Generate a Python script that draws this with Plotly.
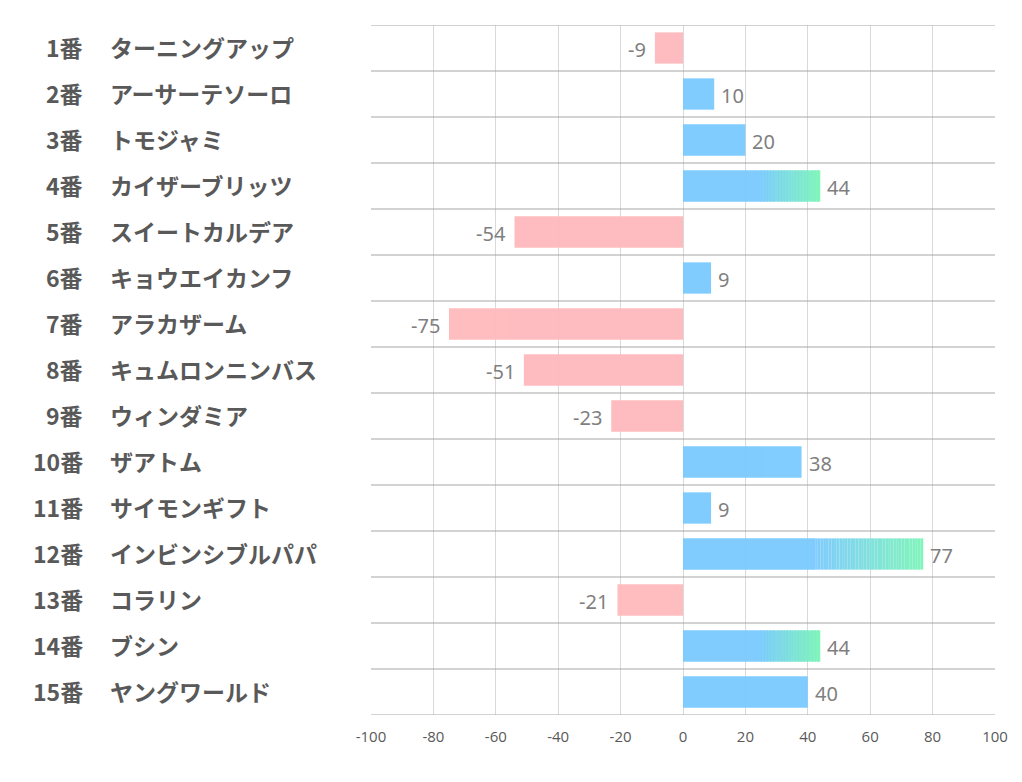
import plotly.graph_objects as go

numbers = ["1番", "2番", "3番", "4番", "5番", "6番", "7番", "8番", "9番", "10番",
           "11番", "12番", "13番", "14番", "15番"]
names = ["ターニングアップ", "アーサーテソーロ", "トモジャミ", "カイザーブリッツ", "スイートカルデア",
         "キョウエイカンフ", "アラカザーム", "キュムロンニンバス", "ウィンダミア", "ザアトム",
         "サイモンギフト", "インビンシブルパパ", "コラリン", "ブシン", "ヤングワールド"]
values = [-9, 10, 20, 44, -54, 9, -75, -51, -23, 38, 9, 77, -21, 44, 40]
highlight = [4, 12, 14]  # horse numbers drawn with gradient
x_ticks = [-100, -80, -60, -40, -20, 0, 20, 40, 60, 80, 100]
x_tick_text = ["-100", "-80", "-60", "-40", "-20", "0", "20", "40", "60", "80", "100"]

BLUE = (122, 202, 255)
GREEN = (125, 245, 185)
PINK = "rgb(255,185,189)"

n = len(values)
ypos = list(range(n))
fig = go.Figure()

def rgb(c):
    return "rgb(%d,%d,%d)" % c

neg_x = [v if v < 0 else None for v in values]
pos_plain = []
for i, v in enumerate(values):
    if v > 0:
        pos_plain.append(v * 0.55 if (i + 1) in highlight else v)
    else:
        pos_plain.append(None)

BW = 0.68
fig.add_trace(go.Bar(x=neg_x, y=ypos, orientation="h", marker=dict(color=PINK, line=dict(width=0)),
                     width=BW, opacity=0.95, hoverinfo="skip"))
fig.add_trace(go.Bar(x=pos_plain, y=ypos, orientation="h", marker=dict(color=rgb(BLUE), line=dict(width=0)),
                     width=BW, opacity=0.95, hoverinfo="skip"))

NSEG = 40
for k in range(NSEG):
    t0 = 0.55 + 0.45 * k / NSEG
    t1 = 0.55 + 0.45 * (k + 1) / NSEG
    f = (k + 0.5) / NSEG
    col = tuple(BLUE[j] + (GREEN[j] - BLUE[j]) * f for j in range(3))
    xs, bs, ys = [], [], []
    for i, v in enumerate(values):
        if (i + 1) in highlight:
            xs.append(v * (t1 - t0))
            bs.append(v * t0)
            ys.append(i)
    fig.add_trace(go.Bar(x=xs, y=ys, base=bs, orientation="h",
                         marker=dict(color=rgb(col), line=dict(width=0)),
                         width=BW, opacity=0.95, hoverinfo="skip"))

# value labels
for i, v in enumerate(values):
    fig.add_annotation(x=v, y=i, xref="x", yref="y", text=str(v), showarrow=False,
                       xanchor="left" if v > 0 else "right", yanchor="middle",
                       xshift=5 if v > 0 else -7, yshift=-1,
                       font=dict(family="Noto Sans, Open Sans, sans-serif", size=20, color="#7f7f7f"))

# row labels
for i in range(n):
    fig.add_annotation(x=-0.4583, y=i, xref="paper", yref="y", text="<b>%s</b>" % numbers[i],
                       xanchor="right", yanchor="middle", showarrow=False, yshift=1,
                       font=dict(family="Noto Sans CJK JP", size=23, color="#595959"))
    fig.add_annotation(x=-0.4215, y=i, xref="paper", yref="y", text="<b>%s</b>" % names[i],
                       xanchor="left", yanchor="middle", showarrow=False, yshift=1,
                       font=dict(family="Noto Sans CJK JP", size=23, color="#595959"))

# row separators (horizontal)
for b in [i - 0.5 for i in range(n + 1)]:
    fig.add_shape(type="line", xref="paper", yref="y", x0=0, x1=1, y0=b, y1=b,
                  line=dict(color="#a6a6a6", width=1), layer="above")

fig.update_layout(
    width=1006, height=766,
    margin=dict(l=363, r=19, t=17, b=59, autoexpand=False),
    plot_bgcolor="white", paper_bgcolor="white",
    barmode="overlay", showlegend=False,
    xaxis=dict(range=[-100, 100], tickvals=x_ticks, ticktext=x_tick_text, showgrid=True,
               gridcolor="#d9d9d9", gridwidth=1, zeroline=False, showline=False, ticks="",
               ticklabelstandoff=11,
               tickfont=dict(family="Liberation Sans Narrow, Open Sans, sans-serif", size=15, color="#595959")),
    yaxis=dict(range=[n - 0.5, -0.5], showticklabels=False, showgrid=False, zeroline=False,
               showline=False, ticks=""),
)

fig.write_html("out.html")
